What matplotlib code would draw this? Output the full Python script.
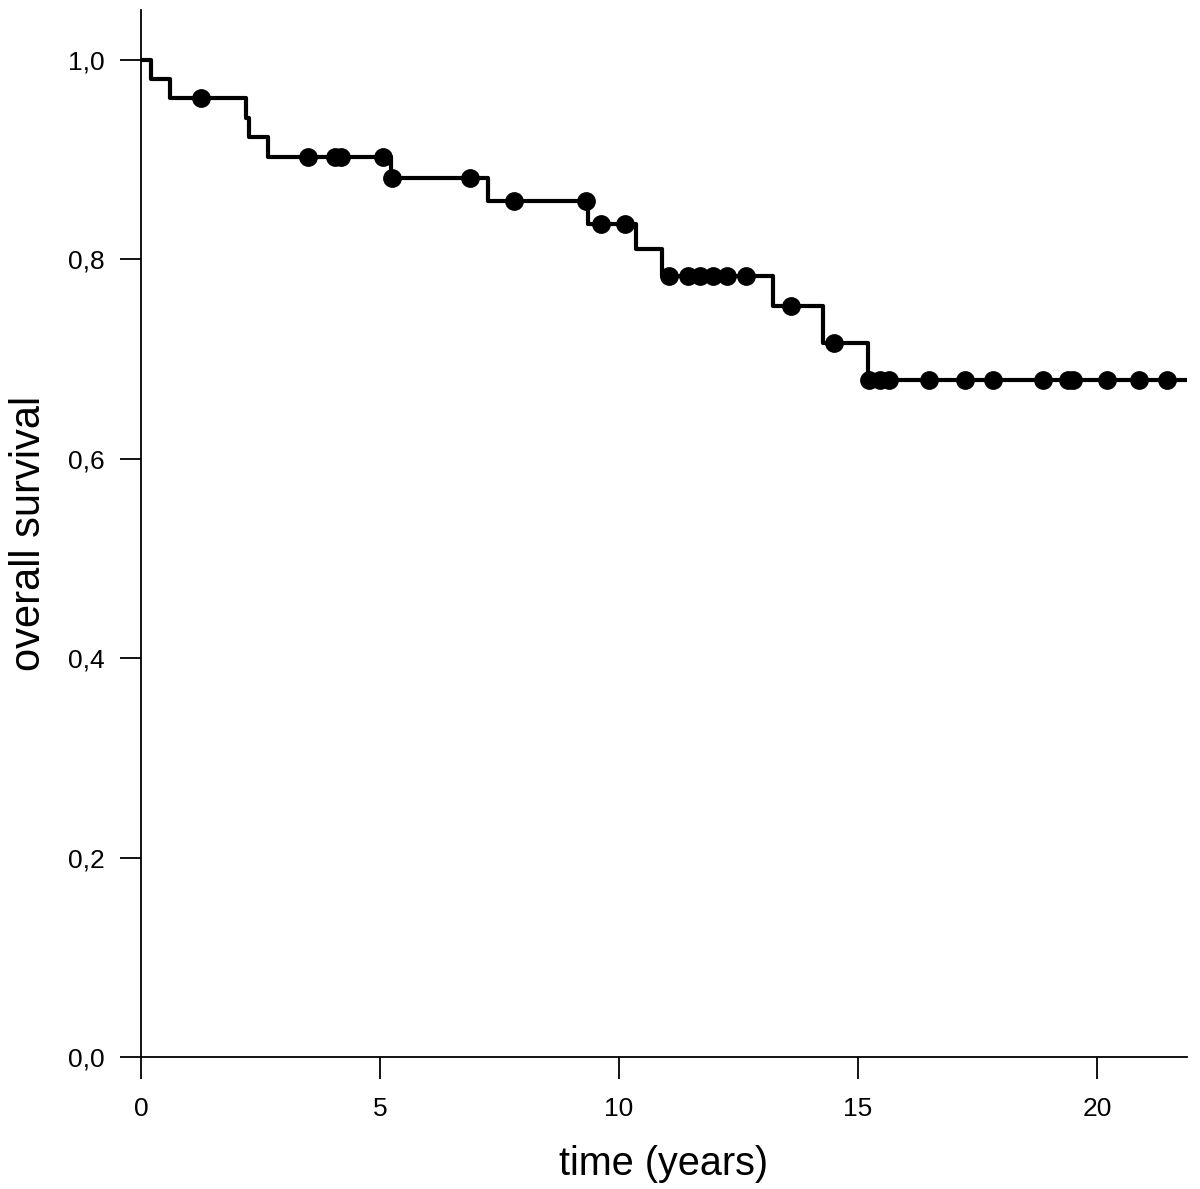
import matplotlib
matplotlib.use("Agg")
import matplotlib.pyplot as plt

plt.rcParams['font.family'] = ['Liberation Sans', 'DejaVu Sans']

# Kaplan-Meier steps: event times (years) and survival after each event
event_times = [0.2, 0.6, 2.19, 2.27, 2.66, 5.24, 7.25, 9.36, 10.35, 10.91, 13.23, 14.26, 15.22]
survival = [0.981, 0.962, 0.942, 0.923, 0.903, 0.882, 0.858, 0.835, 0.810, 0.783, 0.753, 0.716, 0.679]
end_time = 21.88

# censored observations (years)
censor_times = [1.26, 3.49, 4.06, 4.18, 5.06, 5.25, 6.88, 7.80, 9.31, 9.62, 10.13,
                11.04, 11.44, 11.69, 11.96, 12.25, 12.65, 13.60, 14.50,
                15.23, 15.46, 15.65, 16.49, 17.24, 17.82, 18.88, 19.39, 19.50,
                20.21, 20.88, 21.46]

xs = [0.0] + event_times + [end_time]
ys = [1.0] + survival + [survival[-1]]


def surv_at(t):
    s = 1.0
    for et, sv in zip(event_times, survival):
        if t >= et:
            s = sv
    return s


censor_y = [surv_at(t) for t in censor_times]

fig = plt.figure(figsize=(12, 11.89), dpi=100)
ax = fig.add_axes([0.1175, 0.111, 0.8715, 0.8806])

ax.step(xs, ys, where='post', color='black', linewidth=3)
ax.plot(censor_times, censor_y, 'o', color='black', markersize=12.5, linestyle='none')

ax.set_xlim(0, end_time)
ax.set_ylim(0, 1.05)
ax.set_xticks([0, 5, 10, 15, 20])
ax.set_yticks([0.0, 0.2, 0.4, 0.6, 0.8, 1.0])
ax.set_yticklabels(['0,0', '0,2', '0,4', '0,6', '0,8', '1,0'])

for s in ['top', 'right']:
    ax.spines[s].set_visible(False)
for s in ['left', 'bottom']:
    ax.spines[s].set_linewidth(1.3)

ax.tick_params(axis='x', direction='out', length=16, width=1.3, labelsize=19, pad=13)
ax.tick_params(axis='y', direction='out', length=15, width=1.3, labelsize=19, pad=11)

ax.set_xlabel('time (years)', fontsize=28.5, labelpad=17)
ax.set_ylabel('overall survival', fontsize=30, labelpad=14)

fig.savefig('out.png', dpi=100)
